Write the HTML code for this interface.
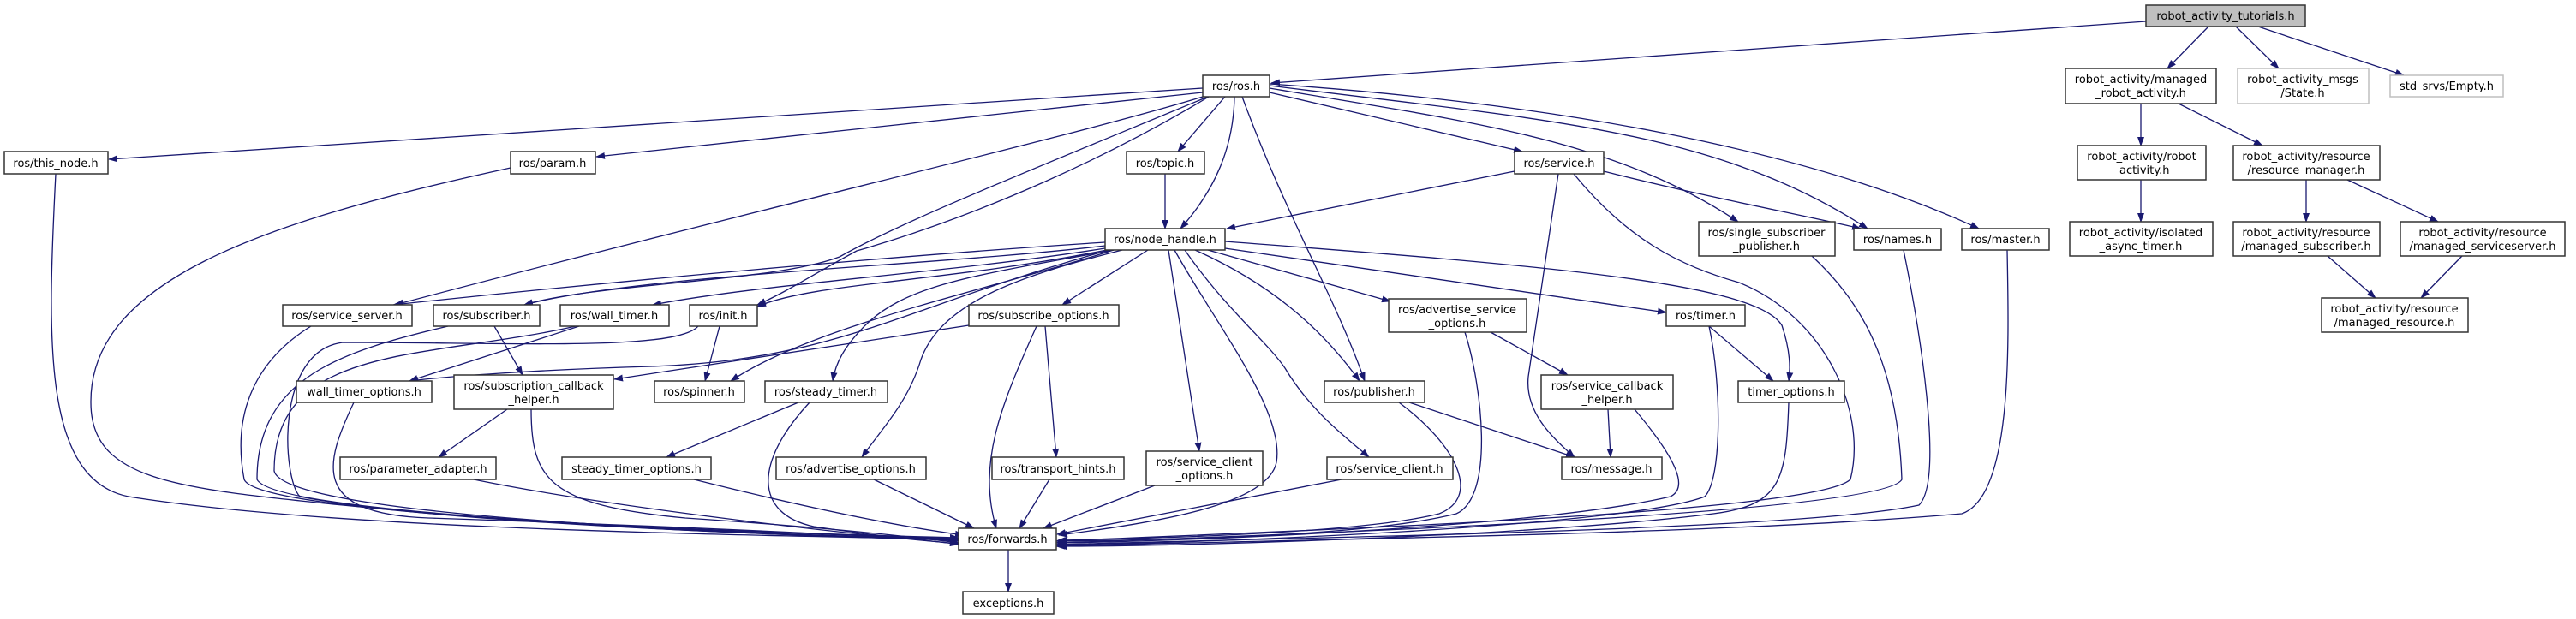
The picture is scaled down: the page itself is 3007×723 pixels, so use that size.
<!DOCTYPE html>
<html><head><meta charset="utf-8"><style>
html,body{margin:0;padding:0;background:#fff;width:3007px;height:723px;overflow:hidden}
svg{display:block}
text{font-family:"DejaVu Sans","Liberation Sans",sans-serif;font-size:13px;fill:#000;text-anchor:middle}
.e{fill:none;stroke:#191970;stroke-width:1.3;marker-end:url(#a)}
.n{fill:#fff;stroke:#333;stroke-width:1.5}
.g{fill:#fff;stroke:#bfbfbf;stroke-width:1.5}
</style></head><body>
<svg width="3007" height="723" viewBox="0 0 3007 723" xmlns="http://www.w3.org/2000/svg">
<defs><marker id="a" markerWidth="11" markerHeight="8" refX="10" refY="4" orient="auto" markerUnits="userSpaceOnUse"><path d="M0,0 L11,4 L0,8 z" fill="#191970"/></marker></defs>
<g>
<path class="e" d="M2505,25 L1484,97"/>
<path class="e" d="M2578,31 L2530,80"/>
<path class="e" d="M2610,31 L2660,80"/>
<path class="e" d="M2636,31 L2806,88"/>
<path class="e" d="M2499,121 L2499,170"/>
<path class="e" d="M2543,121 L2641,170"/>
<path class="e" d="M2499,210 L2499,259"/>
<path class="e" d="M2692,210 L2692,259"/>
<path class="e" d="M2740,210 L2846,259"/>
<path class="e" d="M2717,299 L2773,348"/>
<path class="e" d="M2874,299 L2826,348"/>
<path class="e" d="M1404,103 L127,186"/>
<path class="e" d="M1404,108 L696,183"/>
<path class="e" d="M1404,113 C1250,160 900,240 461,356"/>
<path class="e" d="M1410,113 C1200,200 1050,260 980,300 C900,330 700,330 612,356"/>
<path class="e" d="M1411,113 C1300,180 1150,250 1000,293 C950,320 920,340 884,356"/>
<path class="e" d="M1430,113 L1375,177"/>
<path class="e" d="M1441,113 C1440,170 1420,220 1378,267"/>
<path class="e" d="M1450,113 C1500,250 1560,350 1593,445"/>
<path class="e" d="M1482,108 L1777,177"/>
<path class="e" d="M1482,103 C1700,140 1880,160 2029,259"/>
<path class="e" d="M1482,100 C1800,140 2000,150 2180,267"/>
<path class="e" d="M1872,200 C1990,230 2100,250 2172,267"/>
<path class="e" d="M1482,98 C1800,120 2100,170 2310,267"/>
<path class="e" d="M65,203 C55,400 50,560 150,580 C400,620 900,625 1119,630"/>
<path class="e" d="M596,196 C300,260 105,330 106,470 C106,560 200,570 400,590 C700,620 1000,628 1119,630"/>
<path class="e" d="M1360,203 L1360,267"/>
<path class="e" d="M1768,200 L1432,267"/>
<path class="e" d="M1819,203 L1784,440 C1780,480 1810,510 1838,534"/>
<path class="e" d="M1837,203 C1900,280 1960,310 2030,330 C2130,370 2180,480 2160,560 C2120,600 1500,620 1233,632"/>
<path class="e" d="M2115,299 C2170,350 2215,420 2220,560 C2200,600 1500,625 1233,634"/>
<path class="e" d="M2222,292 C2240,380 2270,560 2240,590 C2100,620 1500,628 1233,636"/>
<path class="e" d="M2343,292 C2345,400 2350,580 2290,600 C2000,625 1500,630 1233,638"/>
<path class="e" d="M1290,283 C1100,295 800,320 459,356"/>
<path class="e" d="M1290,287 C1100,310 750,320 612,356"/>
<path class="e" d="M1290,290 C1100,320 900,330 762,356"/>
<path class="e" d="M1292,292 C1100,330 950,330 884,358"/>
<path class="e" d="M1300,292 C1150,340 950,380 853,445"/>
<path class="e" d="M1295,292 C1050,360 980,420 760,428 C620,432 520,440 478,445"/>
<path class="e" d="M1131,380 L717,443"/>
<path class="e" d="M1340,292 L1240,356"/>
<path class="e" d="M1300,292 C1150,320 1060,330 1010,380 C985,405 975,425 972,445"/>
<path class="e" d="M1310,292 C1200,320 1100,350 1075,420 C1060,470 1030,500 1006,534"/>
<path class="e" d="M1364,292 L1400,527"/>
<path class="e" d="M1371,292 C1420,380 1500,480 1490,540 C1480,590 1350,610 1236,625"/>
<path class="e" d="M1395,292 C1480,330 1540,380 1587,445"/>
<path class="e" d="M1383,292 C1430,360 1480,400 1500,430 C1530,480 1570,510 1598,534"/>
<path class="e" d="M1410,292 L1623,352"/>
<path class="e" d="M1430,290 L1945,365"/>
<path class="e" d="M1430,282 C1800,310 2050,330 2080,380 C2090,410 2090,430 2088,445"/>
<path class="e" d="M363,381 C300,420 270,480 285,560 C300,600 800,620 1119,628"/>
<path class="e" d="M523,381 C400,410 300,440 300,560 C320,600 800,620 1119,629"/>
<path class="e" d="M577,381 L610,438"/>
<path class="e" d="M676,381 L478,445"/>
<path class="e" d="M672,381 C500,420 320,400 320,550 C330,600 800,622 1119,630"/>
<path class="e" d="M840,381 L823,445"/>
<path class="e" d="M815,381 C790,410 600,400 400,400 C320,410 330,560 350,580 C500,610 900,625 1119,631"/>
<path class="e" d="M413,470 C380,540 360,600 500,605 C800,615 1000,625 1119,632"/>
<path class="e" d="M592,478 L512,534"/>
<path class="e" d="M620,478 C620,560 640,590 800,605 C950,615 1050,625 1119,634"/>
<path class="e" d="M553,560 C700,590 950,620 1119,635"/>
<path class="e" d="M932,470 L778,534"/>
<path class="e" d="M945,470 C880,540 880,600 950,615 C1050,630 1100,632 1119,636"/>
<path class="e" d="M810,560 C950,595 1050,615 1125,625"/>
<path class="e" d="M1020,560 L1137,617"/>
<path class="e" d="M1220,381 L1233,534"/>
<path class="e" d="M1210,381 C1170,470 1140,540 1163,617"/>
<path class="e" d="M1225,560 L1190,617"/>
<path class="e" d="M1348,567 L1218,617"/>
<path class="e" d="M1566,560 L1234,624"/>
<path class="e" d="M1645,470 L1838,534"/>
<path class="e" d="M1633,470 C1700,520 1730,580 1680,600 C1600,620 1400,628 1235,631"/>
<path class="e" d="M1740,388 L1830,438"/>
<path class="e" d="M1710,388 C1730,450 1745,580 1700,600 C1600,625 1400,630 1235,632"/>
<path class="e" d="M1877,478 L1880,534"/>
<path class="e" d="M1908,478 C1960,540 1970,570 1950,580 C1800,615 1400,632 1235,634"/>
<path class="e" d="M1995,381 L2070,445"/>
<path class="e" d="M1995,381 C2010,450 2010,560 1990,580 C1900,615 1400,635 1235,636"/>
<path class="e" d="M2088,470 C2085,560 2080,590 2000,600 C1800,625 1400,638 1235,638"/>
<path class="e" d="M1177,642 L1177,691"/>
</g>
<g>
<rect x="2505" y="6" width="186" height="25" fill="#bfbfbf" stroke="#333" stroke-width="1.5"/><text x="2598" y="23">robot_activity_tutorials.h</text>
<rect class="n" x="1404" y="88" width="78" height="25"/><text x="1443" y="105">ros/ros.h</text>
<rect class="n" x="5" y="177" width="121" height="26"/><text x="65" y="195">ros/this_node.h</text>
<rect class="n" x="596" y="177" width="99" height="26"/><text x="645" y="195">ros/param.h</text>
<rect class="n" x="1315" y="177" width="91" height="26"/><text x="1360" y="195">ros/topic.h</text>
<rect class="n" x="1768" y="177" width="104" height="26"/><text x="1820" y="195">ros/service.h</text>
<rect class="n" x="2411" y="80" width="176" height="41"/><text x="2499" y="97">robot_activity/managed</text><text x="2499" y="113">_robot_activity.h</text>
<rect class="g" x="2612" y="80" width="153" height="41"/><text x="2688" y="97">robot_activity_msgs</text><text x="2688" y="113">/State.h</text>
<rect class="g" x="2790" y="88" width="132" height="25"/><text x="2856" y="105">std_srvs/Empty.h</text>
<rect class="n" x="2425" y="170" width="150" height="40"/><text x="2500" y="187">robot_activity/robot</text><text x="2500" y="203">_activity.h</text>
<rect class="n" x="2607" y="170" width="171" height="40"/><text x="2692" y="187">robot_activity/resource</text><text x="2692" y="203">/resource_manager.h</text>
<rect class="n" x="1290" y="267" width="140" height="25"/><text x="1360" y="284">ros/node_handle.h</text>
<rect class="n" x="1983" y="259" width="159" height="40"/><text x="2062" y="276">ros/single_subscriber</text><text x="2062" y="292">_publisher.h</text>
<rect class="n" x="2164" y="267" width="102" height="25"/><text x="2215" y="284">ros/names.h</text>
<rect class="n" x="2290" y="267" width="102" height="25"/><text x="2341" y="284">ros/master.h</text>
<rect class="n" x="2416" y="259" width="167" height="40"/><text x="2499" y="276">robot_activity/isolated</text><text x="2499" y="292">_async_timer.h</text>
<rect class="n" x="2607" y="259" width="171" height="40"/><text x="2692" y="276">robot_activity/resource</text><text x="2692" y="292">/managed_subscriber.h</text>
<rect class="n" x="2802" y="259" width="192" height="40"/><text x="2898" y="276">robot_activity/resource</text><text x="2898" y="292">/managed_serviceserver.h</text>
<rect class="n" x="330" y="356" width="151" height="25"/><text x="405" y="373">ros/service_server.h</text>
<rect class="n" x="506" y="356" width="124" height="25"/><text x="568" y="373">ros/subscriber.h</text>
<rect class="n" x="654" y="356" width="127" height="25"/><text x="717" y="373">ros/wall_timer.h</text>
<rect class="n" x="805" y="356" width="79" height="25"/><text x="844" y="373">ros/init.h</text>
<rect class="n" x="1131" y="356" width="175" height="25"/><text x="1218" y="373">ros/subscribe_options.h</text>
<rect class="n" x="1621" y="349" width="161" height="39"/><text x="1701" y="366">ros/advertise_service</text><text x="1701" y="382">_options.h</text>
<rect class="n" x="1945" y="356" width="92" height="25"/><text x="1991" y="373">ros/timer.h</text>
<rect class="n" x="2710" y="348" width="171" height="40"/><text x="2795" y="365">robot_activity/resource</text><text x="2795" y="381">/managed_resource.h</text>
<rect class="n" x="346" y="445" width="158" height="25"/><text x="425" y="462">wall_timer_options.h</text>
<rect class="n" x="530" y="438" width="186" height="40"/><text x="623" y="455">ros/subscription_callback</text><text x="623" y="471">_helper.h</text>
<rect class="n" x="764" y="445" width="105" height="25"/><text x="816" y="462">ros/spinner.h</text>
<rect class="n" x="893" y="445" width="143" height="25"/><text x="964" y="462">ros/steady_timer.h</text>
<rect class="n" x="1546" y="445" width="117" height="25"/><text x="1604" y="462">ros/publisher.h</text>
<rect class="n" x="1799" y="438" width="154" height="40"/><text x="1876" y="455">ros/service_callback</text><text x="1876" y="471">_helper.h</text>
<rect class="n" x="2029" y="445" width="124" height="25"/><text x="2091" y="462">timer_options.h</text>
<rect class="n" x="397" y="534" width="182" height="26"/><text x="488" y="552">ros/parameter_adapter.h</text>
<rect class="n" x="656" y="534" width="174" height="26"/><text x="743" y="552">steady_timer_options.h</text>
<rect class="n" x="906" y="534" width="175" height="26"/><text x="993" y="552">ros/advertise_options.h</text>
<rect class="n" x="1158" y="534" width="154" height="26"/><text x="1235" y="552">ros/transport_hints.h</text>
<rect class="n" x="1338" y="527" width="136" height="40"/><text x="1406" y="544">ros/service_client</text><text x="1406" y="560">_options.h</text>
<rect class="n" x="1549" y="534" width="147" height="26"/><text x="1622" y="552">ros/service_client.h</text>
<rect class="n" x="1823" y="534" width="117" height="26"/><text x="1881" y="552">ros/message.h</text>
<rect class="n" x="1119" y="617" width="114" height="25"/><text x="1176" y="634">ros/forwards.h</text>
<rect class="n" x="1124" y="691" width="106" height="26"/><text x="1177" y="709">exceptions.h</text>
</g>
</svg>
</body></html>
